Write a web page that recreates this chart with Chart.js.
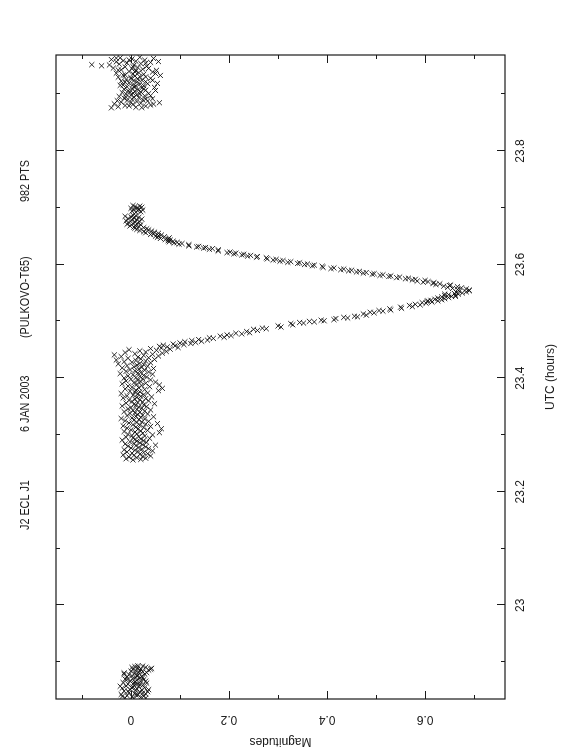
<!DOCTYPE html>
<html>
<head>
<meta charset="utf-8">
<script src="https://cdn.jsdelivr.net/npm/chart.js@4.4.1/dist/chart.umd.min.js"></script>
<style>
  html, body { margin: 0; padding: 0; background: #fff; overflow: hidden; }
  #wrap {
    position: absolute;
    left: -97px; top: 97px;
    width: 756px; height: 562px;
    transform: rotate(-90deg);
  }
</style>
</head>
<body>
<div id="wrap"><canvas id="lightCurve" width="756" height="562"></canvas></div>
<script>
// J2 ECL J1, 6 JAN 2003, Pulkovo T65 -- [UTC hours, magnitude] pairs
const earlyRun = [
  [22.836,0.006],[22.837,-0.012],[22.838,0.020],[22.839,0.002],[22.840,0.026],[22.841,-0.008],
  [22.842,0.014],[22.843,-0.020],[22.844,0.030],[22.845,0.008],[22.846,-0.004],[22.847,0.018],
  [22.848,0.034],[22.849,-0.014],[22.850,0.010],[22.851,0.022],[22.852,-0.002],[22.853,0.012],
  [22.854,-0.018],[22.855,0.028],[22.856,0.004],[22.857,0.016],[22.858,-0.010],[22.859,0.024],
  [22.860,0.006],[22.861,-0.006],[22.862,0.014],[22.863,0.032],[22.864,-0.016],[22.865,0.008],
  [22.866,0.020],[22.867,-0.002],[22.868,0.012],[22.869,0.026],[22.870,-0.012],[22.871,0.004],
  [22.872,0.018],[22.873,0.010],[22.874,-0.008],[22.875,0.022],[22.876,0.002],[22.877,0.014],
  [22.878,-0.004],[22.879,0.028],[22.880,0.008],[22.881,-0.014],[22.882,0.016],[22.883,0.024],
  [22.884,0.000],[22.885,0.010],[22.886,0.036],[22.887,0.004],[22.888,0.020],[22.889,0.042],
  [22.890,0.014],[22.891,0.030],[22.892,0.008],[22.893,0.024],
  [22.8365,0.030],[22.8395,-0.018],[22.8425,0.010],[22.8455,0.024],[22.8485,-0.006],[22.8515,0.036],
  [22.8545,0.002],[22.8575,-0.022],[22.8605,0.018],[22.8635,0.006],[22.8665,0.030],[22.8695,-0.008],
  [22.8725,0.024],[22.8755,0.012],[22.8785,-0.014],[22.8815,0.032],[22.8845,0.018],[22.8875,0.040],
  [22.8905,0.002],[22.8935,0.014]
];

const baseline = [
  [23.256,0.004],[23.257,0.020],[23.258,-0.010],[23.259,0.030],[23.260,0.012],[23.261,-0.004],
  [23.262,0.024],[23.263,0.040],[23.264,0.006],[23.265,-0.016],[23.266,0.018],[23.267,0.034],
  [23.268,0.002],[23.269,0.026],[23.270,-0.008],[23.271,0.014],[23.272,0.044],[23.273,0.008],
  [23.274,-0.014],[23.275,0.022],[23.276,0.036],[23.277,0.000],[23.278,0.016],[23.279,0.030],
  [23.280,-0.006],[23.281,0.010],[23.282,0.050],[23.283,0.024],[23.284,-0.012],[23.285,0.006],
  [23.286,0.018],[23.287,0.032],[23.288,-0.002],[23.289,0.012],[23.290,0.026],[23.291,-0.018],
  [23.292,0.008],[23.293,0.020],[23.294,0.038],[23.295,0.004],[23.296,-0.010],[23.297,0.016],
  [23.298,0.028],[23.299,0.002],[23.300,0.044],[23.301,-0.006],[23.302,0.012],[23.303,0.024],
  [23.304,0.058],[23.305,0.008],[23.306,-0.014],[23.307,0.020],[23.308,0.034],[23.309,0.000],
  [23.310,0.014],[23.311,0.062],[23.312,-0.008],[23.313,0.026],[23.314,0.010],[23.315,0.040],
  [23.316,-0.016],[23.317,0.018],[23.318,0.004],[23.319,0.030],[23.320,0.054],[23.321,-0.004],
  [23.322,0.012],[23.323,0.022],[23.324,0.036],[23.325,-0.012],[23.326,0.006],[23.327,0.016],
  [23.328,0.028],[23.329,-0.020],[23.330,0.002],[23.331,0.020],[23.332,0.046],[23.333,0.010],
  [23.334,-0.008],[23.335,0.024],[23.336,0.014],[23.337,0.034],[23.338,-0.002],[23.339,0.008],
  [23.340,0.018],[23.341,-0.014],[23.342,0.028],[23.343,0.004],[23.344,0.040],[23.345,0.012],
  [23.346,-0.006],[23.347,0.022],[23.348,0.000],[23.349,0.016],[23.350,0.032],[23.351,-0.018],
  [23.352,0.010],[23.353,0.026],[23.354,0.006],[23.355,0.048],[23.356,-0.010],[23.357,0.014],
  [23.358,0.024],[23.359,0.002],[23.360,0.036],[23.361,-0.004],[23.362,0.018],[23.363,0.008],
  [23.364,0.030],[23.365,-0.016],[23.366,0.012],[23.367,0.042],[23.368,0.020],[23.369,-0.008],
  [23.370,0.004],[23.371,0.026],[23.372,0.014],[23.373,-0.020],[23.374,0.034],[23.375,0.008],
  [23.376,0.018],[23.377,-0.002],[23.378,0.056],[23.379,0.010],[23.380,0.028],[23.381,-0.012],
  [23.382,0.064],[23.383,0.016],[23.384,0.002],[23.385,0.038],[23.386,-0.006],[23.387,0.022],
  [23.388,0.058],[23.389,0.012],[23.390,-0.018],[23.391,0.030],[23.392,0.006],[23.393,0.050],
  [23.394,0.020],[23.395,-0.010],[23.396,0.014],[23.397,0.040],[23.398,0.000],[23.399,0.024],
  [23.400,-0.014],[23.401,0.010],[23.402,0.032],[23.403,0.018],[23.404,-0.006],[23.405,0.026],
  [23.406,0.004],[23.407,0.044],[23.408,-0.022],[23.409,0.014],[23.410,0.020],[23.411,0.036],
  [23.412,-0.010],[23.413,0.008],[23.414,0.028],[23.415,-0.002],[23.416,0.016],[23.417,0.046],
  [23.418,-0.018],[23.419,0.022],[23.420,0.006],[23.421,0.034],[23.422,-0.008],[23.423,0.012],
  [23.424,0.026],[23.425,-0.026],[23.426,0.018],[23.427,0.040],[23.428,0.002],[23.429,-0.014],
  [23.430,0.030],[23.431,0.010],[23.432,-0.030],[23.433,0.048],[23.434,0.020],[23.435,-0.006],
  [23.436,0.036],[23.437,0.014],[23.438,-0.020],[23.439,0.056],[23.440,0.026],[23.441,-0.034],
  [23.442,0.044],[23.443,0.008],[23.444,0.064],[23.445,-0.012],[23.446,0.030],[23.447,0.072],
  [23.448,0.018],[23.449,0.052],[23.450,-0.004],[23.451,0.080],[23.452,0.040],[23.453,0.062],
  [23.454,0.096],[23.455,0.074]
];

const ingress = [
  [23.456,0.058],[23.457,0.090],[23.458,0.066],[23.459,0.108],[23.460,0.086],[23.461,0.122],
  [23.462,0.100],[23.463,0.132],[23.464,0.110],[23.465,0.144],[23.466,0.124],[23.467,0.156],
  [23.468,0.138],[23.470,0.168],[23.471,0.160],[23.472,0.190],[23.474,0.182],[23.475,0.204],
  [23.476,0.196],[23.478,0.226],[23.479,0.214],[23.480,0.242],[23.482,0.236],[23.484,0.258],
  [23.486,0.250],[23.487,0.276],[23.488,0.268],[23.490,0.306],[23.492,0.300],[23.494,0.330],
  [23.496,0.326],[23.497,0.352],[23.498,0.344],[23.499,0.374],[23.500,0.364],[23.501,0.394],
  [23.502,0.388],[23.503,0.414],[23.505,0.418],[23.506,0.442],[23.507,0.434],[23.508,0.462],
  [23.509,0.456],[23.511,0.480],[23.513,0.474],[23.515,0.496],[23.516,0.488],[23.518,0.514],
  [23.519,0.506],[23.520,0.530],[23.522,0.528],[23.523,0.552],[23.525,0.550],[23.526,0.574],
  [23.528,0.568],[23.529,0.590],[23.530,0.580],[23.532,0.602],[23.533,0.594],[23.534,0.614],
  [23.535,0.604],[23.536,0.626],[23.537,0.612],[23.538,0.634],[23.539,0.620],[23.540,0.640],
  [23.541,0.626],[23.542,0.648],[23.543,0.634],[23.544,0.654],[23.545,0.640],[23.546,0.662],
  [23.547,0.648],[23.548,0.668],[23.549,0.660],[23.550,0.676],[23.551,0.664],[23.552,0.684],
  [23.553,0.670],[23.554,0.690],[23.548,0.640],[23.536,0.606],[23.544,0.662]
];

const egress = [
  [23.555,0.690],[23.556,0.666],[23.557,0.684],[23.558,0.656],[23.559,0.674],[23.560,0.646],
  [23.561,0.666],[23.562,0.638],[23.563,0.650],[23.564,0.652],[23.565,0.622],[23.566,0.630],
  [23.567,0.616],[23.568,0.618],[23.569,0.596],[23.570,0.606],[23.571,0.584],[23.572,0.600],
  [23.573,0.574],[23.574,0.580],[23.575,0.560],[23.576,0.566],[23.577,0.542],[23.578,0.548],
  [23.579,0.526],[23.580,0.530],[23.581,0.508],[23.582,0.514],[23.583,0.492],[23.584,0.496],
  [23.585,0.474],[23.586,0.480],[23.587,0.460],[23.588,0.466],[23.589,0.444],[23.590,0.450],
  [23.591,0.428],[23.592,0.434],[23.593,0.408],[23.594,0.414],[23.595,0.392],[23.597,0.390],
  [23.598,0.370],[23.599,0.374],[23.600,0.354],[23.601,0.360],[23.602,0.340],[23.603,0.344],
  [23.604,0.320],[23.605,0.326],[23.606,0.304],[23.607,0.310],[23.608,0.290],[23.609,0.296],
  [23.610,0.278],[23.612,0.276],[23.613,0.256],[23.614,0.258],[23.615,0.238],[23.616,0.244],
  [23.617,0.226],[23.618,0.230],[23.619,0.210],[23.620,0.214],[23.621,0.196],[23.622,0.202],
  [23.624,0.178],[23.626,0.178],[23.627,0.160],[23.628,0.166],[23.629,0.148],[23.630,0.152],
  [23.631,0.134],[23.632,0.138],[23.633,0.118],[23.635,0.118],[23.636,0.098],[23.637,0.104],
  [23.638,0.088],[23.639,0.094],[23.640,0.078],[23.641,0.086],[23.642,0.076],[23.643,0.080],
  [23.644,0.070],[23.645,0.076],[23.646,0.060],[23.647,0.078],[23.648,0.054],[23.649,0.068],
  [23.650,0.050],[23.651,0.056],[23.652,0.062],[23.653,0.040],[23.654,0.046],[23.655,0.056],
  [23.656,0.030],[23.657,0.048],[23.658,0.026],[23.659,0.042],[23.660,0.018],[23.661,0.036],
  [23.662,0.012],[23.663,0.032],[23.664,0.008],[23.665,0.026]
];

const postEclipse = [
  [23.666,0.006],[23.667,0.016],[23.668,-0.002],[23.669,0.010],[23.670,0.020],[23.671,-0.008],
  [23.672,0.004],[23.673,0.014],[23.674,-0.004],[23.675,0.008],[23.676,0.018],[23.677,-0.010],
  [23.678,0.002],[23.679,0.012],[23.680,0.022],[23.681,-0.006],[23.682,0.006],[23.683,0.016],
  [23.684,0.000],[23.685,-0.012],[23.686,0.010],[23.687,0.004],[23.692,0.010],[23.693,0.020],
  [23.694,0.002],[23.695,0.014],[23.696,0.024],[23.697,0.006],[23.698,0.016],[23.699,0.000],
  [23.700,0.012],[23.701,0.022],[23.702,0.008],[23.703,0.018],[23.704,0.004]
];

const lateRun = [
  [23.876,-0.040],[23.877,0.010],[23.878,-0.026],[23.879,0.030],[23.880,-0.012],[23.881,0.040],
  [23.882,0.004],[23.883,-0.034],[23.884,0.020],[23.885,0.058],[23.886,-0.020],[23.887,0.012],
  [23.888,0.034],[23.889,-0.008],[23.890,0.024],[23.891,0.002],[23.892,0.044],[23.893,-0.014],
  [23.894,0.016],[23.895,0.006],[23.896,-0.024],[23.897,0.028],[23.898,0.000],[23.899,0.012],
  [23.900,-0.010],[23.901,0.036],[23.902,0.004],[23.903,-0.018],[23.904,0.020],[23.905,0.008],
  [23.906,-0.006],[23.907,0.030],[23.908,0.014],[23.909,-0.014],[23.910,0.002],[23.911,0.022],
  [23.912,0.048],[23.913,-0.008],[23.914,0.010],[23.915,0.026],[23.916,-0.016],[23.917,0.004],
  [23.918,0.018],[23.919,0.054],[23.920,-0.004],[23.921,0.012],[23.922,0.030],[23.923,-0.020],
  [23.924,0.006],[23.925,0.022],[23.926,-0.010],[23.927,0.014],[23.928,0.040],[23.929,0.000],
  [23.930,-0.026],[23.931,0.018],[23.932,0.008],[23.933,0.060],[23.934,-0.012],[23.935,0.026],
  [23.936,0.004],[23.937,-0.030],[23.938,0.016],[23.939,0.044],[23.940,-0.004],[23.941,0.010],
  [23.942,0.052],[23.943,-0.020],[23.944,0.024],[23.945,0.002],[23.946,-0.036],[23.947,0.014],
  [23.948,-0.012],[23.949,0.032],[23.950,-0.060],[23.951,0.006],[23.952,-0.080],[23.953,-0.024],
  [23.954,0.020],[23.955,-0.008],[23.956,0.040],[23.957,-0.030],[23.958,0.010],[23.959,-0.016],
  [23.960,0.028],[23.961,-0.040],[23.962,0.002],[23.963,0.046],[23.964,-0.022],[23.965,0.018],
  [23.8765,0.022],[23.8795,-0.004],[23.8825,0.046],[23.8855,0.000],[23.8885,-0.028],[23.8915,0.030],
  [23.8945,-0.010],[23.8975,0.040],[23.9005,0.018],[23.9035,-0.002],[23.9065,0.050],[23.9095,0.026],
  [23.9125,0.006],[23.9155,-0.022],[23.9185,0.034],[23.9215,-0.012],[23.9245,0.044],[23.9275,0.000],
  [23.9305,0.030],[23.9335,-0.016],[23.9365,0.050],[23.9395,0.008],[23.9425,-0.026],[23.9455,0.036],
  [23.9485,0.004],[23.9515,-0.044],[23.9545,0.030],[23.9575,0.056],[23.9605,-0.004],[23.9635,-0.030]
];

const titleParts = ['J2 ECL J1', '6 JAN 2003', '(PULKOVO-T65)', '982 PTS'];
const utcRange = [22.835, 23.969];
const magRange = [-0.153, 0.763];

const FONT = "'Liberation Sans', Arial, sans-serif";
const INK = '#1a1a1a';

const allPoints = [earlyRun, baseline, ingress, egress, postEclipse, lateRun]
  .flat()
  .map(p => ({ x: p[0], y: p[1] }));

// PGPLOT style frame: box with inward ticks on all four sides, plus the header line
const framePlugin = {
  id: 'pgFrame',
  afterDraw(chart) {
    const ctx = chart.ctx;
    const a = chart.chartArea;
    const xs = chart.scales.x, ys = chart.scales.y;
    ctx.save();
    ctx.strokeStyle = INK;
    ctx.lineWidth = 1.2;
    ctx.strokeRect(a.left, a.top, a.right - a.left, a.bottom - a.top);

    ctx.lineWidth = 1;
    const drawTicks = (scale, horizontal) => {
      const majors = scale.ticks.map(t => t.value);
      const vals = [];
      majors.forEach(v => { vals.push([v, true]); vals.push([v - 0.1, false]); vals.push([v + 0.1, false]); });
      vals.forEach(([v, major]) => {
        if (v < scale.min || v > scale.max) return;
        const p = Math.round(scale.getPixelForValue(v)) + 0.5;
        const len = major ? 8 : 4;
        ctx.beginPath();
        if (horizontal) {
          ctx.moveTo(p, a.bottom); ctx.lineTo(p, a.bottom - len);
          ctx.moveTo(p, a.top); ctx.lineTo(p, a.top + len);
        } else {
          ctx.moveTo(a.left, p); ctx.lineTo(a.left + len, p);
          ctx.moveTo(a.right, p); ctx.lineTo(a.right - len, p);
        }
        ctx.stroke();
      });
    };
    drawTicks(xs, true);
    drawTicks(ys, false);

    // header
    const offsets = [169, 267, 361, 497];
    ctx.fillStyle = INK;
    ctx.font = '12px ' + FONT;
    ctx.textBaseline = 'middle';
    ctx.textAlign = 'left';
    titleParts.forEach((t, i) => {
      ctx.save();
      ctx.translate(a.left + offsets[i], 26);
      ctx.scale(0.9, 1);
      ctx.fillText(t, 0, 0);
      ctx.restore();
    });
    ctx.restore();
  }
};

new Chart(document.getElementById('lightCurve'), {
  type: 'scatter',
  data: {
    datasets: [{
      data: allPoints,
      pointStyle: 'crossRot',
      pointRadius: 3.6,
      pointBorderWidth: 1,
      borderColor: 'rgba(10,10,10,0.85)',
      backgroundColor: 'rgba(0,0,0,0)'
    }]
  },
  options: {
    responsive: false,
    animation: false,
    events: [],
    layout: { padding: { top: 56, right: 55, left: 0, bottom: 0 } },
    plugins: { legend: { display: false }, tooltip: { enabled: false } },
    scales: {
      x: {
        type: 'linear',
        position: 'bottom',
        min: utcRange[0],
        max: utcRange[1],
        grid: { display: false, drawTicks: false },
        border: { display: false },
        afterFit(s) { s.height = 57; },
        ticks: {
          stepSize: 0.2,
          includeBounds: false,
          autoSkip: false,
          maxRotation: 0,
          padding: 8,
          color: INK,
          font: { family: FONT, size: 12 },
          callback: v => String(Math.round(v * 10) / 10)
        },
        title: {
          display: true,
          text: 'UTC (hours)',
          color: INK,
          font: { family: FONT, size: 12 },
          padding: { top: 0, bottom: 4 }
        }
      },
      y: {
        type: 'linear',
        position: 'left',
        reverse: true,
        min: magRange[0],
        max: magRange[1],
        grid: { display: false, drawTicks: false },
        border: { display: false },
        afterFit(s) { s.width = 57; },
        ticks: {
          stepSize: 0.2,
          includeBounds: false,
          autoSkip: false,
          minRotation: 90,
          maxRotation: 90,
          crossAlign: 'center',
          padding: 12,
          color: INK,
          font: { family: FONT, size: 12 },
          callback: v => { const r = Math.round(v * 10) / 10; return r === 0 ? '0' : String(r); }
        },
        title: {
          display: true,
          text: 'Magnitudes',
          color: INK,
          font: { family: FONT, size: 12 },
          padding: { top: 7, bottom: 0 }
        }
      }
    }
  },
  plugins: [framePlugin]
});
</script>
</body>
</html>
